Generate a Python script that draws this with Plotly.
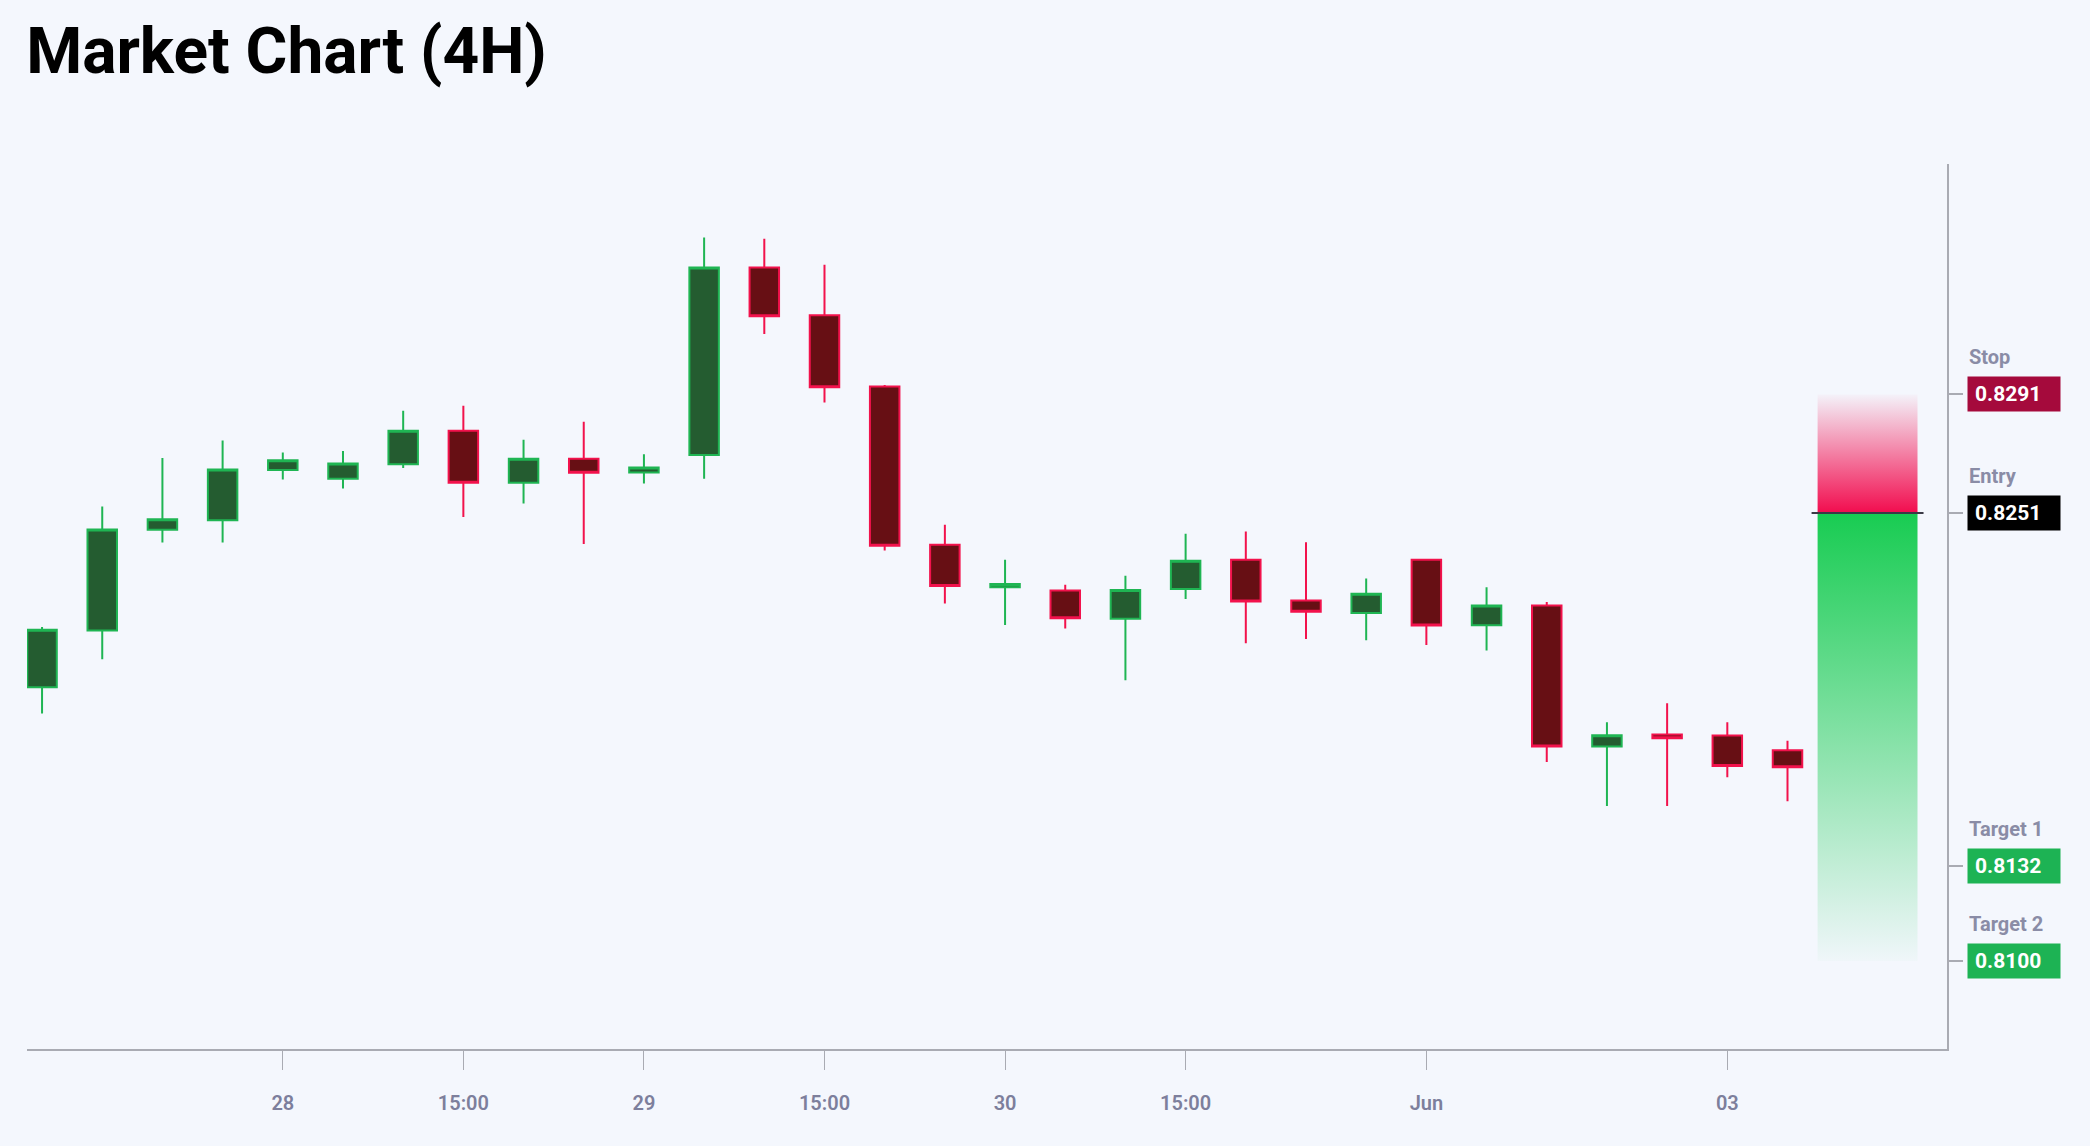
#!/usr/bin/env python3
"""
Market Chart (4H): candlesticks with a long-position tool
(entry / stop / targets) drawn on the right edge.
"""

import plotly.graph_objects as go

# ======================================================
# Data (4H candles)
# ======================================================
OPEN = [0.81923, 0.82114, 0.82454, 0.82486, 0.82655, 0.82626, 0.82675, 0.82788,
        0.82612, 0.82693, 0.82647, 0.82706, 0.83338, 0.83177, 0.82937, 0.82403,
        0.82260, 0.82249, 0.82154, 0.82254, 0.82353, 0.82215, 0.82173, 0.82353,
        0.82132, 0.82198, 0.81723, 0.81763, 0.81760, 0.81710]
HIGH = [0.82126, 0.82532, 0.82696, 0.82755, 0.82714, 0.82719, 0.82855, 0.82872,
        0.82757, 0.82818, 0.82708, 0.83439, 0.83435, 0.83347, 0.82942, 0.82471,
        0.82353, 0.82268, 0.82299, 0.82440, 0.82448, 0.82412, 0.82289, 0.82353,
        0.82260, 0.82210, 0.81805, 0.81869, 0.81805, 0.81742]
LOW = [0.81834, 0.82017, 0.82411, 0.82411, 0.82623, 0.82593, 0.82662, 0.82497,
       0.82542, 0.82406, 0.82610, 0.82626, 0.83114, 0.82883, 0.82384, 0.82205,
       0.82133, 0.82121, 0.81946, 0.82220, 0.82071, 0.82085, 0.82081, 0.82065,
       0.82047, 0.81671, 0.81522, 0.81522, 0.81619, 0.81538]
CLOSE = [0.82117, 0.82455, 0.82489, 0.82657, 0.82688, 0.82677, 0.82788, 0.82612,
         0.82693, 0.82646, 0.82664, 0.83338, 0.83174, 0.82934, 0.82400, 0.82264,
         0.82271, 0.82155, 0.82251, 0.82349, 0.82212, 0.82177, 0.82238, 0.82131,
         0.82198, 0.81723, 0.81761, 0.81751, 0.81657, 0.81653]

# x-axis tick labels (candle index -> label)
TICK_IDX = [4, 7, 10, 13, 16, 19, 23, 28]
TICK_TEXT = ["28", "15:00", "29", "15:00", "30", "15:00", "Jun", "03"]

# Position tool levels
LEVEL_NAMES = ["Stop", "Entry", "Target 1", "Target 2"]
LEVEL_VALUES = [0.8291, 0.8251, 0.8132, 0.8100]
LEVEL_COLORS = ["#a50a3c", "#000000", "#1db354", "#1db354"]

ENTRY = LEVEL_VALUES[1]
STOP = LEVEL_VALUES[0]
TARGET_LAST = LEVEL_VALUES[-1]

# ======================================================
# Styling
# ======================================================
BG = "#f4f7fd"
AXIS = "#a9abb3"
LABEL = "#8a8ca6"
TICKFONT = "#7d7f9c"
FONT = "Roboto"

x_idx = list(range(len(OPEN)))
zone_x0, zone_x1 = len(OPEN) - 0.5, len(OPEN) + 1.16

# ======================================================
# Build figure
# ======================================================
fig = go.Figure()

# risk zone (entry -> stop)
fig.add_trace(
    go.Scatter(
        x=[zone_x0, zone_x1, zone_x1, zone_x0, zone_x0],
        y=[ENTRY, ENTRY, STOP, STOP, ENTRY],
        mode="lines",
        line=dict(width=0),
        fill="toself",
        fillgradient=dict(
            type="vertical",
            colorscale=[[0, "rgba(242,12,78,1)"], [1, "rgba(242,12,78,0.02)"]],
        ),
        hoverinfo="skip",
        showlegend=False,
    )
)

# reward zone (entry -> last target)
fig.add_trace(
    go.Scatter(
        x=[zone_x0, zone_x1, zone_x1, zone_x0, zone_x0],
        y=[TARGET_LAST, TARGET_LAST, ENTRY, ENTRY, TARGET_LAST],
        mode="lines",
        line=dict(width=0),
        fill="toself",
        fillgradient=dict(
            type="vertical",
            colorscale=[[0, "rgba(24,204,82,0.02)"], [1, "rgba(24,204,82,1)"]],
        ),
        hoverinfo="skip",
        showlegend=False,
    )
)

fig.add_trace(
    go.Candlestick(
        x=x_idx,
        open=OPEN,
        high=HIGH,
        low=LOW,
        close=CLOSE,
        increasing=dict(line=dict(color="#1fb553", width=2), fillcolor="#245c30"),
        decreasing=dict(line=dict(color="#f2124c", width=2), fillcolor="#670f14"),
        showlegend=False,
    )
)

# entry line across the tool
fig.add_shape(
    type="line",
    x0=zone_x0 - 0.1, x1=zone_x1 + 0.1,
    y0=ENTRY, y1=ENTRY,
    line=dict(color="#3a3a46", width=2),
)

# ------------------------------------------------------
# Level labels on the right
# ------------------------------------------------------
for name, val, col in zip(LEVEL_NAMES, LEVEL_VALUES, LEVEL_COLORS):
    fig.add_annotation(
        xref="paper", x=1, xshift=20, xanchor="left",
        yref="y", y=val, yanchor="middle",
        text=f"{val:.4f}",
        showarrow=False,
        font=dict(family=FONT, size=21, color="white", weight="bold"),
        bgcolor=col,
        width=78, height=20, borderpad=7, align="left",
    )
    fig.add_annotation(
        xref="paper", x=1, xshift=20, xanchor="left",
        yref="y", y=val, yshift=37, yanchor="middle",
        text=name,
        showarrow=False,
        font=dict(family=FONT, size=20, color=LABEL, weight="bold"),
    )

# ======================================================
# Layout
# ======================================================
fig.update_layout(
    title=dict(
        text="Market Chart (4H)",
        font=dict(family=FONT, size=64, color="black", weight="bold"),
        x=0.0125, xanchor="left",
        y=0.975, yanchor="top",
    ),
    width=2090,
    height=1146,
    paper_bgcolor=BG,
    plot_bgcolor=BG,
    margin=dict(l=27, r=143, t=164, b=97),
    showlegend=False,
    xaxis=dict(
        range=[-0.25, 31.65],
        rangeslider=dict(visible=False),
        tickvals=TICK_IDX,
        ticktext=TICK_TEXT,
        showgrid=False,
        zeroline=False,
        showline=True,
        linecolor=AXIS,
        linewidth=2,
        ticks="outside",
        ticklen=19,
        tickcolor=AXIS,
        tickwidth=1,
        ticklabelstandoff=16,
        tickfont=dict(family=FONT, size=20, color=TICKFONT, weight=600),
    ),
    yaxis=dict(
        range=[0.80703, 0.83687],
        side="right",
        tickvals=LEVEL_VALUES,
        showticklabels=False,
        showgrid=False,
        zeroline=False,
        showline=True,
        linecolor=AXIS,
        linewidth=2,
        ticks="outside",
        ticklen=14,
        tickcolor=AXIS,
        tickwidth=2,
    ),
)

# page sits flush in the window, no default body margin
fig.write_html(
    "out.html",
    config={"displayModeBar": False},
    post_script=(
        "document.body.style.margin='0';"
        f"document.body.style.background='{BG}';"
    ),
)
